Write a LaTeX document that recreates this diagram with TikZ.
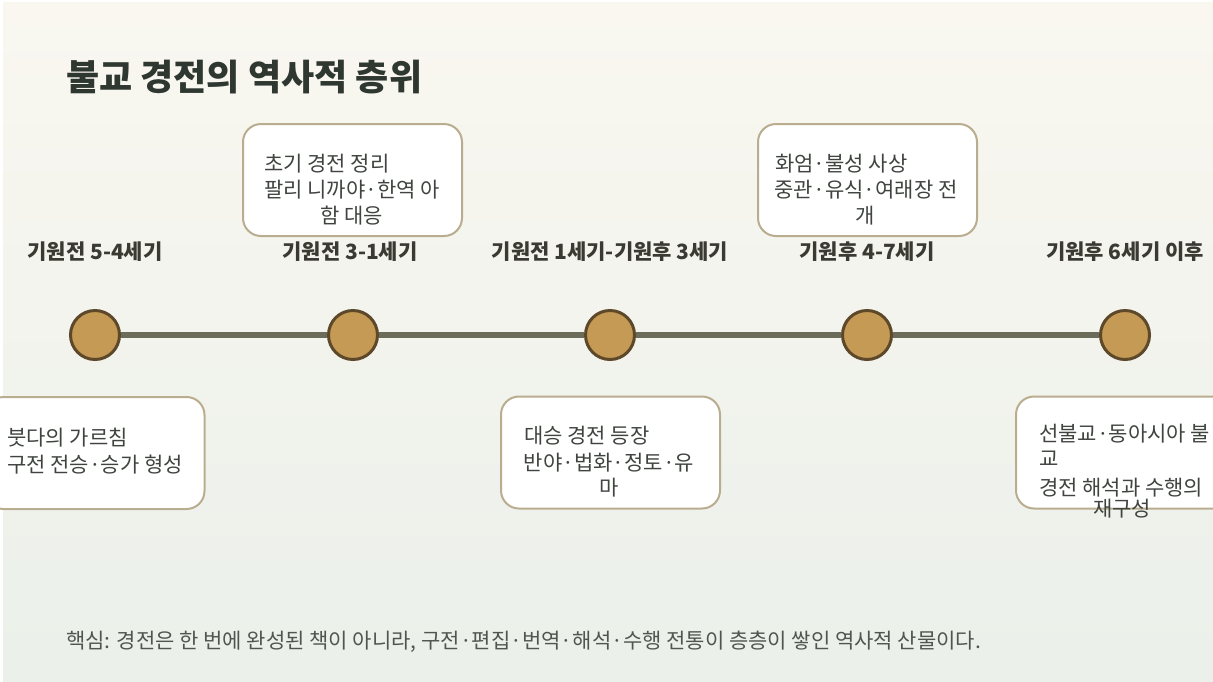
\documentclass[tikz,border=0pt]{standalone}
\usepackage{fontspec}
\setmainfont{Noto Sans CJK KR}
\definecolor{bgtop}{HTML}{F9F7F0}
\definecolor{bgbot}{HTML}{EBF0EA}
\definecolor{titlec}{HTML}{2F3731}
\definecolor{datec}{HTML}{3A3A33}
\definecolor{textc}{HTML}{3F443F}
\definecolor{notec}{HTML}{50554F}
\definecolor{linec}{HTML}{6B6C5A}
\definecolor{dotfill}{HTML}{C49A55}
\definecolor{dotdraw}{HTML}{5E482A}
\definecolor{boxdraw}{HTML}{BAAD8F}
\tikzset{
  titletext/.style={inner sep=0, text height=31.7pt, text depth=4.3pt, font=\fontsize{36}{36}\selectfont\bfseries, text=titlec},
  datetext/.style={inner sep=0, text height=18.5pt, text depth=2.5pt, font=\fontsize{21}{21}\selectfont\bfseries, text=datec},
  boxtext/.style={inner sep=0, text height=18.5pt, text depth=2.5pt, font=\fontsize{21}{21}\selectfont, text=textc},
  notetext/.style={inner sep=0, text height=18.5pt, text depth=2.5pt, font=\fontsize{21}{21}\selectfont, text=notec},
  card/.style={draw=boxdraw, line width=2pt, fill=white, rounded corners=18pt, minimum width=219pt, minimum height=112pt, inner sep=0},
  dot/.style={circle, draw=dotdraw, line width=3pt, fill=dotfill, minimum size=49pt, inner sep=0},
  tline/.style={draw=linec, line width=6.5pt}
}
\begin{document}
\begin{tikzpicture}[x=1pt,y=-1pt]
\useasboundingbox (0,0) rectangle (1213,681);
\clip (0,0) rectangle (1213,681);
\fill[white] (0,0) rectangle (1213,681);
\shade[top color=bgtop, bottom color=bgbot] (3,2) rectangle (1213,681);

% title
\node[titletext, anchor=west] (title) at (66,77) {불교 경전의 역사적 층위};

% dates
\node[datetext] (d1) at (95,251) {기원전 5-4세기};
\node[datetext] (d2) at (350,251) {기원전 3-1세기};
\node[datetext] (d3) at (610,251) {기원전 1세기-기원후 3세기};
\node[datetext] (d4) at (867,251) {기원후 4-7세기};
\node[datetext] (d5) at (1125,251) {기원후 6세기 이후};

% timeline dots
\node[dot] (c1) at (95,335) {};
\node[dot] (c2) at (353,335) {};
\node[dot] (c3) at (610,335) {};
\node[dot] (c4) at (867,335) {};
\node[dot] (c5) at (1125,335) {};
\draw[tline] (c1) -- (c2);
\draw[tline] (c2) -- (c3);
\draw[tline] (c3) -- (c4);
\draw[tline] (c4) -- (c5);

% cards
\node[card] (b1) at (95,453) {};
\node[card] (b2) at (352.5,180) {};
\node[card] (b3) at (610.5,452.5) {};
\node[card] (b4) at (867.5,180) {};
\node[card] (b5) at (1125.5,452.5) {};

% card texts
\node[boxtext, anchor=west] (t1a) at (7,437) {붓다의 가르침};
\node[boxtext] (t1b) at (95,464) {구전 전승·승가 형성};

\node[boxtext, anchor=west] (t2a) at (264,163) {초기 경전 정리};
\node[boxtext] (t2b) at (352,189.5) {팔리 니까야·한역 아};
\node[boxtext] (t2c) at (351.5,215) {함 대응};

\node[boxtext, anchor=west] (t3a) at (524,435) {대승 경전 등장};
\node[boxtext] (t3b) at (609,462) {반야·법화·정토·유};
\node[boxtext] (t3c) at (609,487) {마};

\node[boxtext, anchor=west] (t4a) at (775,163) {화엄·불성 사상};
\node[boxtext] (t4b) at (866,189.5) {중관·유식·여래장 전};
\node[boxtext] (t4c) at (865.5,215) {개};

\node[boxtext, anchor=west] (t5a) at (1039,433) {선불교·동아시아 불};
\node[boxtext, anchor=west] (t5b) at (1039,458) {교};
\node[boxtext, anchor=west] (t5c) at (1039,487) {경전 해석과 수행의};
\node[boxtext] (t5d) at (1122,508) {재구성};

% note
\node[notetext, anchor=west] (note) at (66,640) {핵심: 경전은 한 번에 완성된 책이 아니라, 구전·편집·번역·해석·수행 전통이 층층이 쌓인 역사적 산물이다.};
\end{tikzpicture}
\end{document}
